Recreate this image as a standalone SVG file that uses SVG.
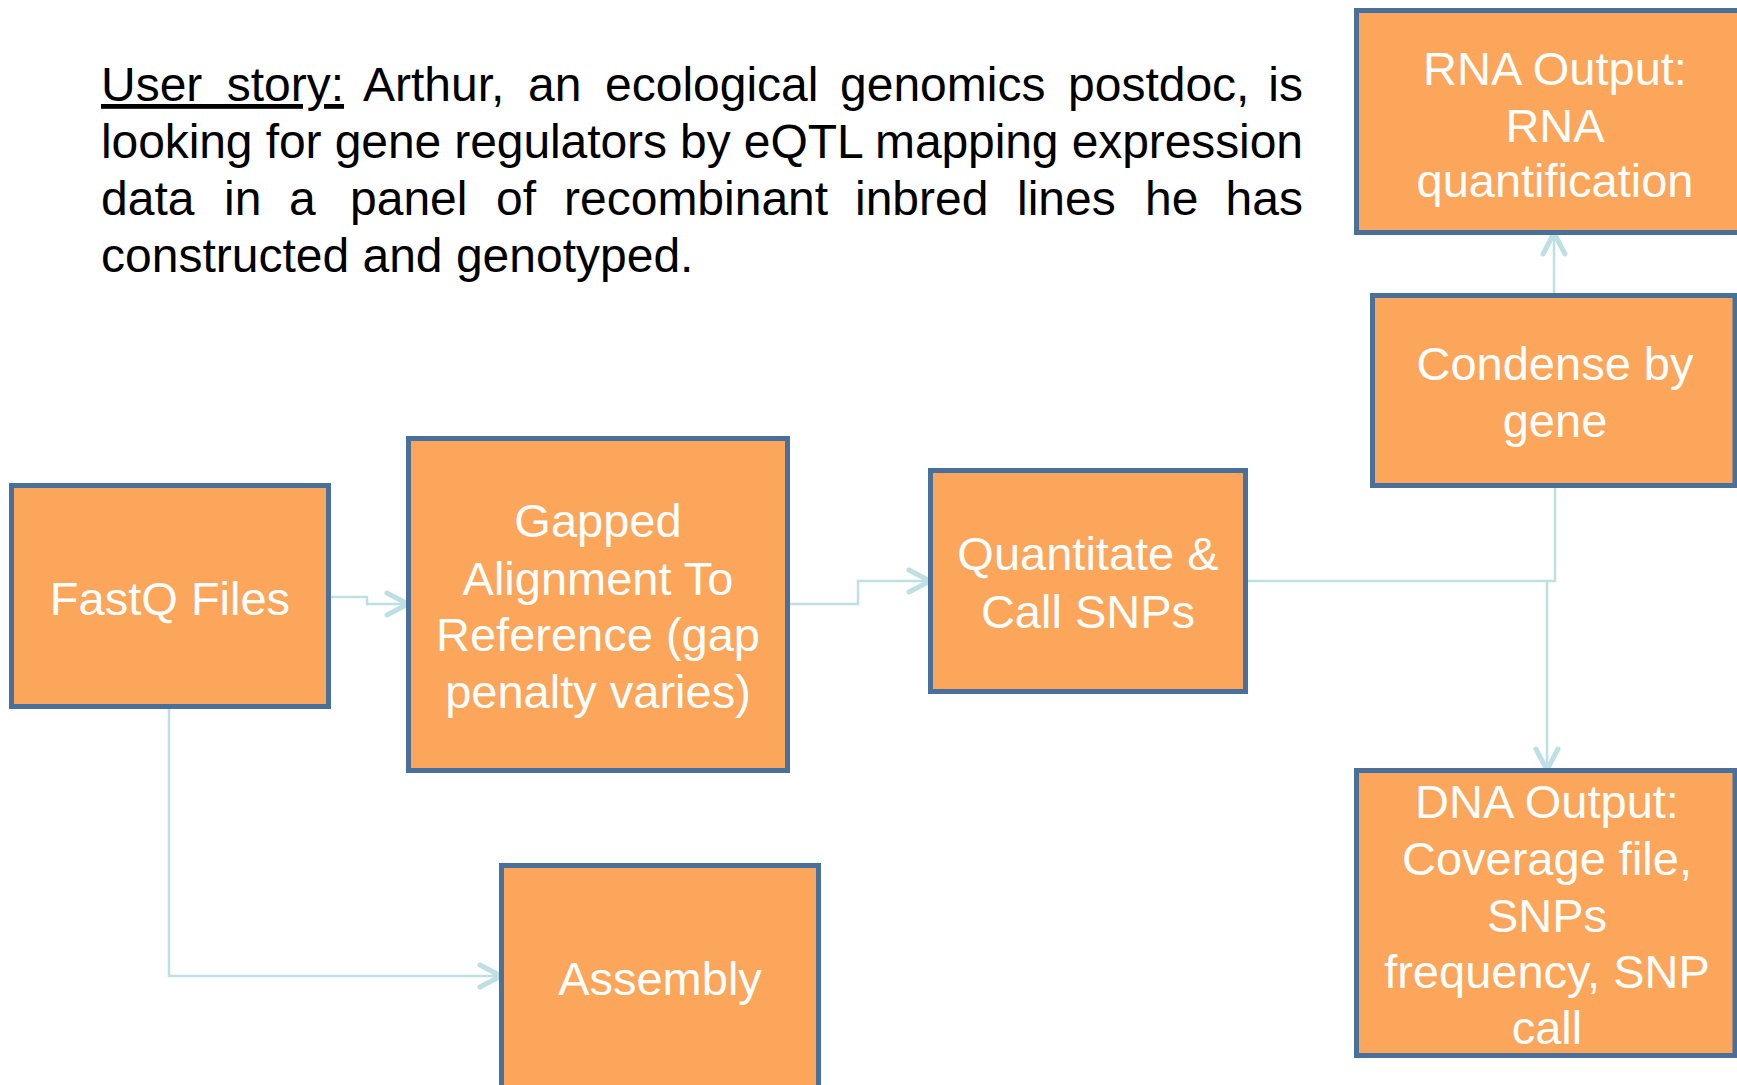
<svg xmlns="http://www.w3.org/2000/svg" width="1737" height="1085" viewBox="0 0 1737 1085">
<style>
.box{fill:#FBA65B;stroke:#48709A;stroke-width:5}
.lbl{font-family:"Liberation Sans",Arial,sans-serif;font-size:47px;fill:#FFFFFF;text-anchor:middle}
.story{font-family:"Liberation Sans",Arial,sans-serif;font-size:48px;fill:#000000}
.conn{fill:none;stroke:#BEE0E4;stroke-width:2.5}
</style>
<defs>
<marker id="arr" markerUnits="userSpaceOnUse" markerWidth="40" markerHeight="40" viewBox="-30 -20 40 40" refX="-2" refY="0" orient="auto">
<path d="M-21,-11 L0,0 L-21,11" fill="none" stroke="#BEE0E4" stroke-width="5" stroke-linecap="round" stroke-linejoin="round"/>
</marker>
</defs>
<rect width="1737" height="1085" fill="#FFFFFF"/>
<g id="story">
<text class="story" y="101"><tspan x="101" text-decoration="underline" word-spacing="11">User story:</tspan><tspan x="363">Arthur,</tspan><tspan x="528">an</tspan><tspan x="605">ecological</tspan><tspan x="840">genomics</tspan><tspan x="1068">postdoc,</tspan><tspan x="1303" text-anchor="end">is</tspan></text>
<text class="story" x="101" y="158" textLength="1202" lengthAdjust="spacing">looking for gene regulators by eQTL mapping expression</text>
<text class="story" y="215"><tspan x="101">data</tspan><tspan x="224">in</tspan><tspan x="289">a</tspan><tspan x="350">panel</tspan><tspan x="496">of</tspan><tspan x="564">recombinant</tspan><tspan x="855">inbred</tspan><tspan x="1017">lines</tspan><tspan x="1145">he</tspan><tspan x="1303" text-anchor="end">has</tspan></text>
<text class="story" x="101" y="272">constructed and genotyped.</text>
</g>
<g id="connectors">
<path class="conn" d="M331,597 H367 V604 H406" marker-end="url(#arr)"/>
<path class="conn" d="M790,604 H858 V581 H928" marker-end="url(#arr)"/>
<path class="conn" d="M1248,581 H1555 V488"/>
<path class="conn" d="M1547,581 V768" marker-end="url(#arr)"/>
<path class="conn" d="M1554,293 V235" marker-end="url(#arr)"/>
<path class="conn" d="M169,709 V976 H499" marker-end="url(#arr)"/>
</g>
<g id="fastq">
<rect class="box" x="11.5" y="485.5" width="317" height="221"/>
<text class="lbl" x="170" y="615">FastQ Files</text>
</g>
<g id="gapped">
<rect class="box" x="408.5" y="438.5" width="379" height="332"/>
<text class="lbl" x="598" y="537">Gapped</text>
<text class="lbl" x="598" y="595">Alignment To</text>
<text class="lbl" x="598" y="651">Reference (gap</text>
<text class="lbl" x="598" y="708">penalty varies)</text>
</g>
<g id="quant">
<rect class="box" x="930.5" y="470.5" width="315" height="221"/>
<text class="lbl" x="1088" y="570">Quantitate &amp;</text>
<text class="lbl" x="1088" y="628">Call SNPs</text>
</g>
<g id="condense">
<rect class="box" x="1372.5" y="295.5" width="362.5" height="190"/>
<text class="lbl" x="1555" y="380">Condense by</text>
<text class="lbl" x="1555" y="437">gene</text>
</g>
<g id="rna">
<rect class="box" x="1356.5" y="10.5" width="420" height="222"/>
<text class="lbl" x="1555" y="85">RNA Output:</text>
<text class="lbl" x="1555" y="142">RNA</text>
<text class="lbl" x="1555" y="197">quantification</text>
</g>
<g id="dna">
<rect class="box" x="1356.5" y="770.5" width="378.5" height="285"/>
<text class="lbl" x="1547" y="818">DNA Output:</text>
<text class="lbl" x="1547" y="875">Coverage file,</text>
<text class="lbl" x="1547" y="932">SNPs</text>
<text class="lbl" x="1547" y="988">frequency, SNP</text>
<text class="lbl" x="1547" y="1044">call</text>
</g>
<g id="assembly">
<rect class="box" x="501.5" y="865.5" width="317" height="240"/>
<text class="lbl" x="660" y="995">Assembly</text>
</g>
</svg>
